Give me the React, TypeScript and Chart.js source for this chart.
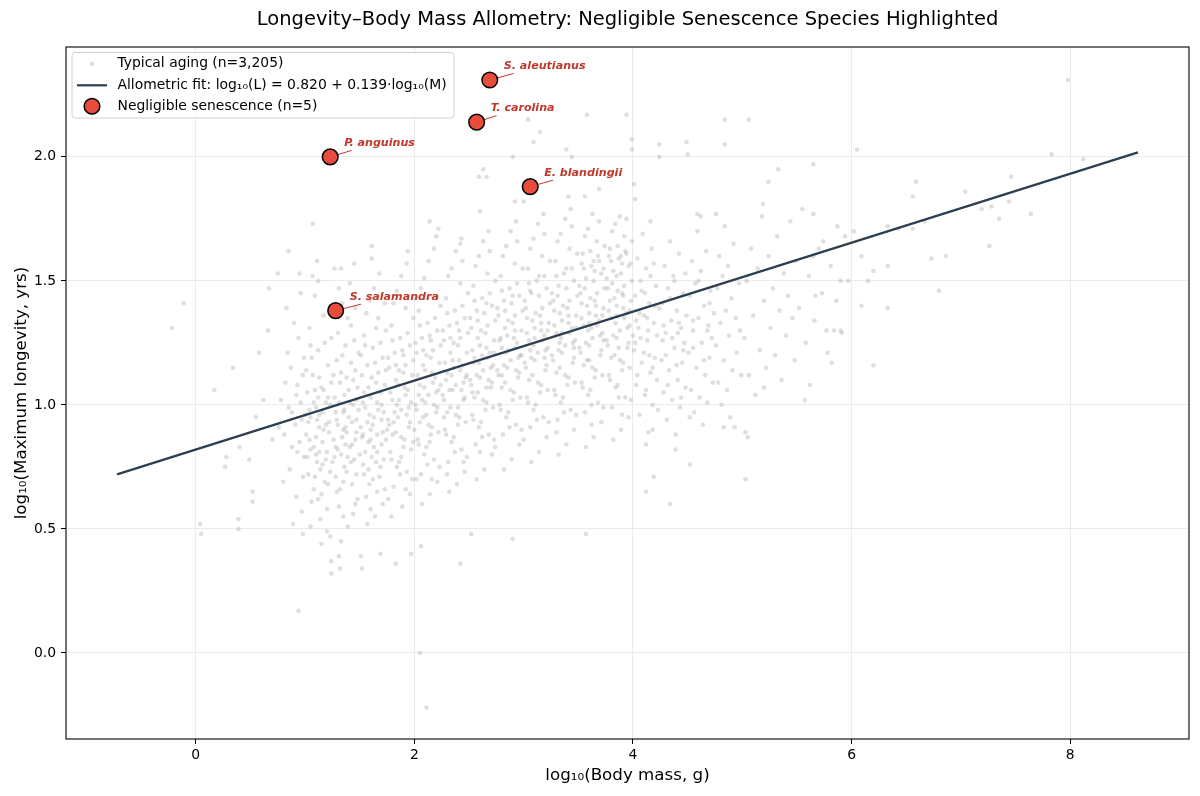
import { useEffect, useRef } from 'react';
import { Chart, registerables } from 'chart.js';

Chart.register(...registerables);

// Allometric fit: log10(L) = a + b·log10(M)
const FIT_INTERCEPT = 0.82;
const FIT_SLOPE = 0.139;
const fitMassRange = [-0.72, 8.62];

// Negligible-senescence species (log10 mass g, log10 max longevity yrs)
const negligibleNames = ['S. aleutianus', 'T. carolina', 'P. anguinus', 'E. blandingii', 'S. salamandra'];
const negligibleMass = [2.69, 2.57, 1.23, 3.06, 1.28];
const negligibleLongevity = [2.31, 2.14, 2.0, 1.88, 1.38];

const xTicks = [0, 2, 4, 6, 8];
const yTicks = [0, 0.5, 1, 1.5, 2];

const typicalCount = '3,205';

// Typical-aging species: [log10 mass, log10 longevity]
const typicalAging: number[][] = [
  [0.78,1.02],[0.81,0.88],[0.84,1.21],[0.86,0.74],[0.88,0.97],[0.9,1.33],[0.92,0.63],[0.93,1.08],[0.95,0.85],[0.96,1.45],[0.97,0.57],[0.98,1.12],[0.99,0.79],[0.8,0.69],[0.83,1.39],[0.87,1.15],[0.89,0.52],[0.91,0.92],[0.94,1.27],[0.96,1.01],[0.98,0.71],[0.99,1.19],[0.85,0.99],[0.93,0.81],[0.97,0.94],[0.82,1.09],[0.88,0.83],[0.95,1.53],[0.76,0.91],[0.92,1.04],
  [1.01,0.88],[1.02,1.05],[1.03,0.72],[1.04,1.31],[1.05,0.95],[1.06,0.61],[1.07,1.12],[1.08,0.83],[1.09,1.44],[1.1,0.99],[1.11,0.77],[1.12,1.22],[1.13,0.91],[1.14,0.54],[1.15,1.07],[1.16,0.85],[1.17,1.36],[1.18,0.69],[1.19,1.01],[1.2,0.81],[1.21,1.16],[1.22,0.93],[1.23,0.47],[1.24,1.27],[1.02,0.79],[1.04,0.98],[1.06,1.19],[1.08,0.66],[1.1,0.87],[1.12,1.03],[1.14,0.74],[1.16,0.97],[1.18,1.25],[1.2,0.58],[1.22,0.89],[1.24,1.09],[1.01,1.14],[1.03,0.93],[1.05,0.82],[1.07,1.52],[1.09,0.71],[1.11,0.94],[1.13,1.11],[1.15,0.64],[1.17,0.9],[1.19,0.78],[1.21,1.03],[1.23,0.73],[1.05,1.24],[1.09,1.06],[1.13,0.81],[1.17,1.06],[1.21,0.68],[1.0,0.96],[1.11,1.58],
  [1.26,0.86],[1.27,1.03],[1.28,0.71],[1.29,1.18],[1.3,0.92],[1.31,0.59],[1.32,1.09],[1.33,0.8],[1.34,1.41],[1.35,0.97],[1.36,0.75],[1.37,1.24],[1.38,0.89],[1.39,0.51],[1.4,1.06],[1.41,0.83],[1.42,1.32],[1.43,0.68],[1.44,1.0],[1.45,0.78],[1.46,1.14],[1.47,0.94],[1.48,0.62],[1.49,1.21],[1.26,1.12],[1.28,0.97],[1.3,1.29],[1.32,0.66],[1.34,0.87],[1.36,1.04],[1.38,0.73],[1.4,0.95],[1.42,1.17],[1.44,0.56],[1.46,0.86],[1.48,1.07],[1.27,0.79],[1.29,0.94],[1.31,1.47],[1.33,1.13],[1.35,0.69],[1.37,0.91],[1.39,1.35],[1.41,1.01],[1.43,0.84],[1.45,1.26],[1.47,0.72],[1.49,0.98],[1.3,0.82],[1.34,1.2],[1.38,1.11],[1.42,0.77],[1.46,1.39],[1.27,1.55],[1.33,0.45],[1.41,1.49],[1.47,0.89],[1.36,0.98],[1.44,1.1],[1.29,0.65],
  [1.51,0.91],[1.52,1.12],[1.53,0.76],[1.54,1.28],[1.55,0.99],[1.56,0.63],[1.57,1.16],[1.58,0.85],[1.59,1.42],[1.6,1.03],[1.61,0.79],[1.62,1.23],[1.63,0.95],[1.64,0.55],[1.65,1.09],[1.66,0.88],[1.67,1.35],[1.68,0.71],[1.69,1.05],[1.7,0.84],[1.71,1.19],[1.72,0.97],[1.73,0.66],[1.74,1.3],[1.51,1.2],[1.53,1.01],[1.55,0.81],[1.57,0.93],[1.59,0.68],[1.61,1.11],[1.63,1.47],[1.65,0.77],[1.67,0.98],[1.69,1.25],[1.71,0.6],[1.73,1.08],[1.52,0.87],[1.54,0.72],[1.56,1.37],[1.58,1.07],[1.6,0.9],[1.62,0.7],[1.64,1.17],[1.66,1.01],[1.68,1.53],[1.7,0.94],[1.72,0.78],[1.74,1.14],[1.55,1.24],[1.59,0.96],[1.63,0.83],[1.67,1.13],[1.71,0.89],[1.73,1.41],[1.57,0.52],[1.61,1.59],[1.65,1.31],[1.69,0.75],[1.54,1.05],[1.66,0.65],
  [1.76,0.94],[1.77,1.15],[1.78,0.81],[1.79,1.32],[1.8,1.02],[1.81,0.67],[1.82,1.21],[1.83,0.89],[1.84,1.46],[1.85,1.08],[1.86,0.77],[1.87,1.27],[1.88,0.98],[1.89,0.59],[1.9,1.13],[1.91,0.86],[1.92,1.39],[1.93,0.73],[1.94,1.06],[1.95,0.91],[1.96,1.24],[1.97,1.01],[1.98,0.7],[1.99,1.35],[1.76,1.19],[1.78,1.05],[1.8,0.88],[1.82,0.97],[1.84,0.75],[1.86,1.14],[1.88,1.52],[1.9,0.83],[1.92,1.04],[1.94,1.29],[1.96,0.64],[1.98,1.12],[1.77,0.92],[1.79,0.78],[1.81,1.41],[1.83,1.1],[1.85,0.95],[1.87,0.72],[1.89,1.22],[1.91,1.07],[1.93,1.57],[1.95,0.99],[1.97,0.82],[1.99,1.18],[1.8,1.26],[1.84,1.0],[1.88,0.87],[1.92,1.16],[1.96,0.93],[1.79,0.55],[1.94,1.62],
  [2.01,1.0],[2.02,1.21],[2.03,0.86],[2.04,1.38],[2.05,1.08],[2.06,0.72],[2.07,1.27],[2.08,0.95],[2.09,1.51],[2.1,1.14],[2.11,0.83],[2.12,1.33],[2.13,1.04],[2.14,0.64],[2.15,1.19],[2.16,0.91],[2.17,1.44],[2.18,0.78],[2.19,1.11],[2.2,0.97],[2.21,1.3],[2.22,1.06],[2.23,0.75],[2.24,1.4],[2.01,1.25],[2.03,1.12],[2.05,0.93],[2.07,1.02],[2.09,0.8],[2.11,1.2],[2.13,1.58],[2.15,0.88],[2.17,1.09],[2.19,1.35],[2.21,0.69],[2.23,1.17],[2.02,0.98],[2.04,0.84],[2.06,1.47],[2.08,1.16],[2.1,1.01],[2.12,0.76],[2.14,1.28],[2.16,1.13],[2.18,1.63],[2.2,1.05],[2.22,0.89],[2.24,1.24],[2.05,1.32],[2.09,1.07],[2.13,0.92],[2.17,1.22],[2.21,0.99],[2.07,0.6],[2.2,1.68],
  [2.26,1.04],[2.27,1.26],[2.28,0.9],[2.29,1.43],[2.3,1.13],[2.31,0.77],[2.32,1.32],[2.33,0.99],[2.34,1.55],[2.35,1.18],[2.36,0.87],[2.37,1.38],[2.38,1.08],[2.39,0.68],[2.4,1.24],[2.41,0.95],[2.42,1.49],[2.43,0.82],[2.44,1.16],[2.45,1.02],[2.46,1.35],[2.47,1.11],[2.48,0.79],[2.49,1.45],[2.26,1.3],[2.28,1.17],[2.3,0.97],[2.32,1.06],[2.34,0.85],[2.36,1.25],[2.38,1.62],[2.4,0.92],[2.42,1.14],[2.44,1.4],[2.46,0.73],[2.48,1.21],[2.27,1.02],[2.29,0.88],[2.31,1.52],[2.33,1.21],[2.35,1.06],[2.37,0.81],[2.39,1.33],[2.41,1.18],[2.43,1.67],[2.45,1.09],[2.47,0.93],[2.49,1.29],[2.3,1.37],[2.34,1.12],[2.38,0.96],[2.42,1.27],[2.46,1.03],[2.32,0.65],[2.44,1.58],
  [2.51,1.1],[2.52,1.31],[2.53,0.96],[2.54,1.48],[2.55,1.19],[2.56,0.84],[2.57,1.38],[2.58,1.05],[2.59,1.6],[2.6,1.24],[2.61,0.93],[2.62,1.43],[2.63,1.14],[2.64,0.74],[2.65,1.29],[2.66,1.01],[2.67,1.53],[2.68,0.88],[2.69,1.21],[2.7,1.07],[2.71,1.4],[2.72,1.16],[2.73,0.86],[2.74,1.5],[2.51,1.35],[2.53,1.22],[2.55,1.03],[2.57,1.12],[2.59,0.91],[2.61,1.3],[2.63,1.66],[2.65,0.98],[2.67,1.19],[2.69,1.45],[2.71,0.8],[2.73,1.26],[2.52,1.08],[2.54,0.94],[2.56,1.56],[2.58,1.27],[2.6,1.11],[2.62,0.87],[2.64,1.37],[2.66,1.23],[2.68,1.7],[2.7,1.15],[2.72,0.99],[2.74,1.34],[2.55,1.42],[2.59,1.17],[2.63,1.02],[2.67,1.32],[2.71,1.09],[2.57,0.7],[2.69,1.62],
  [2.76,1.14],[2.77,1.36],[2.78,1.0],[2.79,1.52],[2.8,1.23],[2.81,0.88],[2.82,1.42],[2.83,1.09],[2.84,1.64],[2.85,1.28],[2.86,0.97],[2.87,1.47],[2.88,1.18],[2.89,0.78],[2.9,1.33],[2.91,1.05],[2.92,1.57],[2.93,0.92],[2.94,1.25],[2.95,1.11],[2.96,1.44],[2.97,1.2],[2.98,0.9],[2.99,1.55],[2.76,1.39],[2.78,1.26],[2.8,1.07],[2.82,1.16],[2.84,0.95],[2.86,1.34],[2.88,1.7],[2.9,1.02],[2.92,1.23],[2.94,1.49],[2.96,0.84],[2.98,1.3],[2.77,1.12],[2.79,0.98],[2.81,1.6],[2.83,1.31],[2.85,1.15],[2.87,0.91],[2.89,1.41],[2.91,1.27],[2.93,1.74],[2.95,1.19],[2.97,1.03],[2.99,1.38],[2.8,1.46],[2.84,1.21],[2.88,1.06],[2.92,1.36],[2.96,1.13],[2.82,0.74],[2.94,1.66],
  [3.01,1.17],[3.02,1.39],[3.03,1.03],[3.04,1.55],[3.05,1.26],[3.06,0.91],[3.07,1.45],[3.08,1.12],[3.09,1.67],[3.1,1.31],[3.11,1.0],[3.12,1.5],[3.13,1.21],[3.14,0.81],[3.15,1.36],[3.16,1.08],[3.17,1.6],[3.18,0.95],[3.19,1.28],[3.2,1.14],[3.21,1.47],[3.22,1.23],[3.23,0.93],[3.24,1.58],[3.01,1.42],[3.03,1.29],[3.05,1.1],[3.07,1.19],[3.09,0.98],[3.11,1.37],[3.13,1.73],[3.15,1.05],[3.17,1.26],[3.19,1.52],[3.21,0.87],[3.23,1.33],[3.02,1.15],[3.04,1.01],[3.06,1.63],[3.08,1.34],[3.1,1.18],[3.12,0.94],[3.14,1.44],[3.16,1.3],[3.18,1.77],[3.2,1.22],[3.22,1.06],[3.24,1.41],[3.05,1.49],[3.09,1.24],[3.13,1.09],[3.17,1.39],[3.21,1.16],[3.07,0.77],[3.19,1.69],
  [3.26,1.2],[3.27,1.42],[3.28,1.06],[3.29,1.58],[3.3,1.29],[3.31,0.94],[3.32,1.48],[3.33,1.15],[3.34,1.69],[3.35,1.34],[3.36,1.03],[3.37,1.53],[3.38,1.24],[3.39,0.84],[3.4,1.39],[3.41,1.11],[3.42,1.63],[3.43,0.98],[3.44,1.31],[3.45,1.17],[3.46,1.5],[3.47,1.26],[3.48,0.96],[3.49,1.61],[3.26,1.45],[3.28,1.32],[3.3,1.13],[3.32,1.22],[3.34,1.01],[3.36,1.4],[3.38,1.75],[3.4,1.08],[3.42,1.29],[3.44,1.55],[3.46,0.9],[3.48,1.36],[3.27,1.18],[3.29,1.04],[3.31,1.66],[3.33,1.37],[3.35,1.21],[3.37,0.97],[3.39,1.47],[3.41,1.33],[3.43,1.79],[3.45,1.25],[3.47,1.09],[3.49,1.44],[3.3,1.52],[3.34,1.27],[3.38,1.12],[3.42,1.42],[3.46,1.19],[3.32,0.8],[3.44,1.72],
  [3.51,1.23],[3.52,1.45],[3.53,1.09],[3.54,1.61],[3.55,1.32],[3.56,0.97],[3.57,1.51],[3.58,1.18],[3.59,1.71],[3.6,1.37],[3.61,1.06],[3.62,1.56],[3.63,1.27],[3.64,0.87],[3.65,1.42],[3.66,1.14],[3.67,1.66],[3.68,1.01],[3.69,1.34],[3.7,1.2],[3.71,1.53],[3.72,1.29],[3.73,0.99],[3.74,1.64],[3.51,1.48],[3.53,1.35],[3.55,1.16],[3.57,1.25],[3.59,1.04],[3.61,1.43],[3.63,1.77],[3.65,1.11],[3.67,1.32],[3.69,1.58],[3.71,0.93],[3.73,1.39],[3.52,1.21],[3.54,1.07],[3.56,1.68],[3.58,1.4],[3.6,1.24],[3.62,1.0],[3.64,1.5],[3.66,1.36],[3.68,1.6],[3.7,1.28],[3.72,1.12],[3.74,1.47],[3.55,1.55],[3.59,1.3],[3.63,1.15],[3.67,1.45],[3.71,1.22],[3.57,0.83],[3.69,1.74],[3.53,1.57],[3.61,1.62],[3.65,1.54],[3.73,1.55],[3.62,1.31],
  [3.76,1.26],[3.77,1.47],[3.78,1.12],[3.79,1.63],[3.8,1.35],[3.81,0.99],[3.82,1.54],[3.83,1.2],[3.84,1.73],[3.85,1.4],[3.86,1.08],[3.87,1.59],[3.88,1.3],[3.89,0.9],[3.9,1.45],[3.91,1.17],[3.92,1.68],[3.93,1.03],[3.94,1.37],[3.95,1.23],[3.96,1.56],[3.97,1.32],[3.98,1.02],[3.99,1.66],[3.76,1.51],[3.78,1.38],[3.8,1.19],[3.82,1.28],[3.84,1.07],[3.86,1.46],[3.88,1.76],[3.9,1.14],[3.92,1.35],[3.94,1.61],[3.96,0.95],[3.98,1.42],[3.77,1.24],[3.79,1.1],[3.81,1.7],[3.83,1.43],[3.85,1.27],[3.87,1.03],[3.89,1.53],[3.91,1.39],[3.93,1.62],[3.95,1.31],[3.97,1.15],[3.99,1.5],[3.8,1.58],[3.84,1.33],[3.88,1.18],[3.92,1.48],[3.96,1.25],[3.82,0.86],[3.94,1.75],[3.78,1.6],[3.86,1.64],[3.9,1.57],[3.98,1.57],[3.85,1.52],
  [4.01,1.22],[4.02,1.44],[4.03,1.08],[4.04,1.59],[4.05,1.31],[4.06,0.96],[4.07,1.5],[4.08,1.17],[4.09,1.69],[4.1,1.36],[4.11,1.04],[4.12,1.55],[4.13,1.26],[4.14,0.89],[4.15,1.41],[4.16,1.13],[4.17,1.63],[4.18,1.0],[4.19,1.33],[4.2,1.19],[4.21,1.48],[4.22,1.28],[4.23,0.98],[4.24,1.39],[4.02,1.25],[4.04,1.12],[4.06,1.37],[4.08,1.46],[4.1,1.21],[4.12,1.06],[4.14,1.3],[4.16,1.52],[4.18,1.15],[4.2,1.4],[4.22,1.1],[4.03,1.34],[4.07,1.27],[4.11,1.45],[4.15,1.2],[4.19,1.57],
  [4.26,1.18],[4.27,1.41],[4.28,1.05],[4.29,1.56],[4.3,1.29],[4.31,0.94],[4.32,1.47],[4.33,1.14],[4.34,1.66],[4.35,1.34],[4.36,1.02],[4.37,1.52],[4.38,1.23],[4.39,0.88],[4.4,1.38],[4.41,1.1],[4.42,1.61],[4.43,0.99],[4.44,1.31],[4.45,1.17],[4.46,1.45],[4.47,1.25],[4.48,1.07],[4.49,1.36],[4.28,1.32],[4.3,1.2],[4.32,1.08],[4.34,1.43],[4.36,1.27],[4.38,1.5],[4.4,1.16],[4.42,1.33],[4.44,1.03],[4.46,1.22],[4.48,1.53],
  [4.51,1.21],[4.52,1.44],[4.53,1.06],[4.54,1.58],[4.55,1.3],[4.56,0.97],[4.57,1.49],[4.58,1.15],[4.59,1.7],[4.6,1.35],[4.61,1.03],[4.62,1.54],[4.63,1.25],[4.64,0.92],[4.65,1.4],[4.66,1.12],[4.67,1.62],[4.68,1.01],[4.69,1.32],[4.7,1.19],[4.71,1.46],[4.72,1.27],[4.73,1.09],[4.74,1.37],[4.55,1.23],[4.6,1.5],[4.65,1.18],[4.7,1.41],
  [4.76,1.24],[4.77,1.47],[4.78,1.09],[4.79,1.6],[4.8,1.33],[4.81,1.0],[4.82,1.52],[4.83,1.18],[4.84,1.72],[4.85,1.38],[4.86,1.06],[4.87,1.56],[4.88,1.28],[4.89,0.95],[4.9,1.43],[4.91,1.14],[4.92,1.65],[4.94,1.35],[4.95,1.21],[4.97,1.49],[4.98,1.3],[4.99,1.12],
  [5.02,1.27],[5.04,1.5],[5.06,1.12],[5.08,1.63],[5.1,1.36],[5.12,1.04],[5.14,1.55],[5.16,1.22],[5.18,1.76],[5.2,1.42],[5.22,1.15],[5.24,1.6],[5.26,1.31],[5.28,1.47],[5.3,1.2],[5.32,1.68],[5.34,1.38],[5.36,1.1],[5.38,1.53],[5.4,1.28],[5.42,1.44],[5.44,1.74],[5.46,1.35],[5.48,1.18],[5.49,1.58],
  [5.52,1.39],[5.58,1.25],[5.61,1.52],[5.66,1.34],[5.7,1.63],[5.73,1.45],[5.78,1.21],[5.81,1.56],[5.86,1.42],[5.9,1.3],[5.94,1.68],[5.97,1.5],
  [1.04,0.86],[1.13,0.96],[1.19,0.92],[1.23,1.0],[1.08,1.01],[1.16,0.76],[1.28,0.83],[1.35,0.9],[1.43,0.93],[1.31,1.01],[1.39,0.79],[1.47,1.02],[1.53,0.88],[1.62,0.92],[1.58,0.74],[1.7,1.0],[1.66,0.81],[1.74,0.86],[1.81,0.93],[1.86,1.02],[1.93,0.96],[1.99,0.85],[1.83,1.16],[1.9,1.2],[2.04,1.04],[2.11,0.96],[2.18,1.0],[2.24,1.08],[2.08,1.22],[2.15,1.26],[2.29,1.1],[2.36,1.15],[2.43,1.06],[2.48,1.12],[2.33,1.27],[2.41,1.3],[2.54,1.17],[2.62,1.2],[2.68,1.1],[2.73,1.21],[2.58,1.34],[2.66,1.41],[2.79,1.27],[2.86,1.22],[2.92,1.3],[2.98,1.2],[2.83,1.38],[2.9,1.44],[3.03,1.35],[3.1,1.27],[3.16,1.33],[3.22,1.3],[3.06,1.46],[3.14,1.52],[3.28,1.38],[3.35,1.29],[3.41,1.36],[3.48,1.31],[3.31,1.44],[3.39,1.55],[3.53,1.41],[3.6,1.33],[3.66,1.4],[3.72,1.36],[3.56,1.47],[3.64,1.58],[3.79,1.42],[3.85,1.36],[3.91,1.44],[3.97,1.38],[3.81,1.49],[3.89,1.6],
  [1.1,0.8],[1.25,0.77],[1.37,0.84],[1.5,0.8],[1.6,0.86],[1.75,0.9],[1.88,0.79],[2.0,0.9],[2.14,0.85],[2.27,0.95],[2.4,0.99],[2.53,1.05],[2.66,1.07],[2.8,1.12],[2.93,1.14],[3.06,1.22],[3.19,1.19],[3.33,1.25],[3.46,1.23],[3.6,1.18],[3.73,1.26],[3.87,1.23],[4.0,1.28],[4.13,1.35],[4.27,1.26],[4.41,1.29],[4.55,1.34],[4.68,1.3],
  [1.12,0.62],[1.2,0.49],[1.35,0.55],[1.46,0.6],[1.6,0.58],[1.76,0.62],[1.92,0.66],[2.02,0.7],[2.16,0.7],[2.3,0.72],[2.45,0.77],[2.6,0.81],[2.74,0.83],[3.0,0.86],[3.3,0.89],[3.62,0.92],[3.9,0.96],[1.05,0.51],[0.98,0.48],[1.15,0.44],
  [-0.11,1.41],[-0.22,1.31],[0.04,0.52],[0.94,0.17],[1.07,1.73],[0.85,1.62],[0.34,1.15],[0.17,1.06],[0.52,0.65],[0.28,0.79],[0.39,0.54],[0.05,0.48],[0.39,0.5],[0.52,0.61],[0.27,0.75],[0.49,0.78],[0.4,0.83],[0.75,1.53],[0.67,1.47],[0.62,1.02],[0.58,1.21],[0.7,0.86],[0.66,1.3],[0.55,0.95],
  [1.24,0.37],[1.31,0.39],[1.51,0.39],[2.11,-0.22],[2.05,0.0],[4.34,0.6],[5.03,0.89],[4.52,0.95],[4.18,0.9],[4.12,0.84],[3.57,0.48],[2.42,0.36],[2.9,0.46],[2.52,0.48],[2.06,0.43],[1.69,0.4],[1.83,0.36],[1.52,0.34],[1.24,0.32],[1.32,0.34],[1.97,0.4],
  [1.61,1.64],[1.33,1.55],[1.45,1.57],[1.12,1.5],[2.14,1.74],[2.22,1.71],[2.42,1.65],[2.6,1.78],[2.92,1.82],[3.0,1.82],[2.63,1.95],[2.59,1.92],[2.66,1.92],[2.9,2.0],[3.44,2.0],[3.04,2.15],[3.15,2.1],[3.09,2.06],[3.39,2.03],[3.58,2.17],[3.69,1.87],[3.41,1.84],[3.56,1.84],[3.99,2.07],[4.24,2.05],[4.49,2.06],[4.01,1.89],
  [7.98,2.31],[7.83,2.01],[8.12,1.99],[7.46,1.92],[7.44,1.82],[7.64,1.77],[7.35,1.75],[7.28,1.8],[7.19,1.79],[7.26,1.64],[7.04,1.86],[6.59,1.9],[6.56,1.84],[6.67,1.74],[6.56,1.71],[6.73,1.59],[6.86,1.6],[6.8,1.46],[6.33,1.72],[6.43,1.71],[6.33,1.56],[6.33,1.39],[6.15,1.5],[6.2,1.54],[6.09,1.4],[6.09,1.6],[6.02,1.7],[6.05,2.03],[5.87,1.72],[5.9,1.5],[5.91,1.29],[5.84,1.3],[5.77,1.3],[5.82,1.17],[6.2,1.16],[5.65,1.97],[5.33,1.95],[5.24,1.9],[5.55,1.79],[5.65,1.77],[5.74,1.66],[5.65,1.6],[5.67,1.44],[5.62,1.08],[5.57,1.02],[5.06,2.15],[4.84,2.15],[4.84,2.05],[4.5,2.01],[4.24,2.0],[3.94,2.17],[3.99,2.03],[4.02,1.83],[4.16,1.74],[4.59,1.77],[4.76,1.77],[5.19,1.81],[4.62,1.76],[5.05,0.87],[5.03,0.7],[4.52,0.76],[4.19,0.71],[4.12,0.65],[4.39,0.82],[4.93,0.91],[4.83,0.91],[5.2,1.07],
];

const FONT = '"DejaVu Sans", "Liberation Sans", sans-serif';
const RED_TEXT = '#c0392b';
const RED_FILL = '#e74c3c';
const LINE_COLOR = '#2c3e50';
const DOT_COLOR = 'rgba(150,150,150,0.3)';

// Draws the axes frame, titles, legend and species labels on top of the chart.
const decorPlugin = {
  id: 'decor',
  beforeDatasetsDraw(chart: any) {
    const { ctx } = chart;
    const xs = chart.scales.x;
    const ys = chart.scales.y;
    ctx.save();
    ctx.font = `italic bold 11.1px ${FONT}`;
    ctx.strokeStyle = RED_TEXT;
    ctx.lineWidth = 1;
    negligibleNames.forEach((name, i) => {
      const px = xs.getPixelForValue(negligibleMass[i]);
      const py = ys.getPixelForValue(negligibleLongevity[i]);
      const left = px + 14;
      const base = py - 11;
      const w = ctx.measureText(name).width;
      const cx = left + w / 2;
      const cy = base - 4;
      const dx = px - cx;
      const dy = py - cy;
      const tb = (base + 4.5 - cy) / dy;
      const tl = (left - 3 - cx) / dx;
      const t = Math.min(tb, tl);
      ctx.beginPath();
      ctx.moveTo(cx + dx * t, cy + dy * t);
      ctx.lineTo(px, py);
      ctx.stroke();
    });
    ctx.restore();
  },
  afterDraw(chart: any) {
    const { ctx, chartArea } = chart;
    const xs = chart.scales.x;
    const ys = chart.scales.y;
    const { left, right, top, bottom } = chartArea;
    ctx.save();

    // species labels
    ctx.font = `italic bold 11.1px ${FONT}`;
    ctx.fillStyle = RED_TEXT;
    ctx.textAlign = 'left';
    ctx.textBaseline = 'alphabetic';
    negligibleNames.forEach((name, i) => {
      const px = xs.getPixelForValue(negligibleMass[i]);
      const py = ys.getPixelForValue(negligibleLongevity[i]);
      ctx.fillText(name, px + 14, py - 11);
    });

    // frame
    ctx.strokeStyle = '#000';
    ctx.lineWidth = 1.1;
    ctx.strokeRect(left, top, right - left, bottom - top);

    // title
    const midX = (left + right) / 2;
    ctx.fillStyle = '#000';
    ctx.textAlign = 'center';
    ctx.textBaseline = 'middle';
    ctx.font = `19.5px ${FONT}`;
    ctx.fillText('Longevity\u2013Body Mass Allometry: Negligible Senescence Species Highlighted', midX, 20);

    // axis titles
    ctx.font = `16.7px ${FONT}`;
    ctx.fillText('log\u2081\u2080(Body mass, g)', midX, 776);
    ctx.save();
    ctx.translate(22, (top + bottom) / 2);
    ctx.rotate(-Math.PI / 2);
    ctx.fillText('log\u2081\u2080(Maximum longevity, yrs)', 0, 0);
    ctx.restore();

    // legend
    const lx = 72, ly = 52.5, lw = 382, lh = 65.5;
    ctx.beginPath();
    ctx.roundRect(lx, ly, lw, lh, 3);
    ctx.fillStyle = 'rgba(255,255,255,0.85)';
    ctx.fill();
    ctx.strokeStyle = '#d0d0d0';
    ctx.lineWidth = 1;
    ctx.stroke();

    const rows = [63.7, 85.3, 106.3];
    const markX = 92;
    ctx.fillStyle = DOT_COLOR;
    ctx.beginPath();
    ctx.arc(markX, rows[0], 2.2, 0, Math.PI * 2);
    ctx.fill();

    ctx.strokeStyle = LINE_COLOR;
    ctx.lineWidth = 2.2;
    ctx.beginPath();
    ctx.moveTo(77, rows[1]);
    ctx.lineTo(107, rows[1]);
    ctx.stroke();

    ctx.beginPath();
    ctx.arc(markX, rows[2], 7.8, 0, Math.PI * 2);
    ctx.fillStyle = RED_FILL;
    ctx.fill();
    ctx.strokeStyle = '#000';
    ctx.lineWidth = 1.5;
    ctx.stroke();

    ctx.fillStyle = '#000';
    ctx.textAlign = 'left';
    ctx.textBaseline = 'middle';
    ctx.font = `13.9px ${FONT}`;
    const fitLabel = `Allometric fit: log\u2081\u2080(L) = ${FIT_INTERCEPT.toFixed(3)} + ${FIT_SLOPE.toFixed(3)}\u00b7log\u2081\u2080(M)`;
    ctx.fillText(`Typical aging (n=${typicalCount})`, 117.5, rows[0]);
    ctx.fillText(fitLabel, 117.5, rows[1]);
    ctx.fillText(`Negligible senescence (n=${negligibleNames.length})`, 117.5, rows[2]);

    ctx.restore();
  },
};

export default function App() {
  const canvasRef = useRef<HTMLCanvasElement | null>(null);

  useEffect(() => {
    document.body.style.margin = '0';
    const canvas = canvasRef.current;
    if (!canvas) return;

    const fitLine = fitMassRange.map((m) => ({ x: m, y: FIT_INTERCEPT + FIT_SLOPE * m }));

    const chart = new Chart(canvas, {
      type: 'scatter',
      data: {
        datasets: [
          {
            label: 'Negligible senescence',
            data: negligibleMass.map((m, i) => ({ x: m, y: negligibleLongevity[i] })),
            pointRadius: 7.8,
            pointHoverRadius: 7.8,
            backgroundColor: RED_FILL,
            borderColor: '#000',
            borderWidth: 1.5,
            order: 1,
          },
          {
            label: 'Allometric fit',
            data: fitLine,
            showLine: true,
            pointRadius: 0,
            borderColor: LINE_COLOR,
            borderWidth: 2.2,
            order: 2,
          },
          {
            label: 'Typical aging',
            data: typicalAging.map(([m, l]) => ({ x: m, y: l })),
            pointRadius: 2.3,
            pointHoverRadius: 2.3,
            backgroundColor: DOT_COLOR,
            borderWidth: 0,
            order: 3,
          },
        ],
      },
      options: {
        animation: false,
        responsive: false,
        devicePixelRatio: 1,
        layout: { padding: { top: 47, right: 11, left: 0, bottom: 0 } },
        plugins: {
          legend: { display: false },
          title: { display: false },
          tooltip: { enabled: false },
        },
        scales: {
          x: {
            type: 'linear',
            min: -1.187,
            max: 9.087,
            afterFit: (scale: any) => { scale.height = 57; },
            afterBuildTicks: (scale: any) => { scale.ticks = xTicks.map((v) => ({ value: v })); },
            grid: {
              color: '#e6e6e6',
              lineWidth: 0.8,
              drawTicks: true,
              tickLength: 5,
              tickColor: '#000',
              tickWidth: 1,
            },
            border: { display: false },
            ticks: {
              color: '#000',
              font: { family: FONT, size: 13.9 },
              padding: 3,
              maxRotation: 0,
              autoSkip: false,
              callback: (v: any) => String(v),
            },
          },
          y: {
            type: 'linear',
            min: -0.347,
            max: 2.443,
            afterFit: (scale: any) => { scale.width = 66; },
            afterBuildTicks: (scale: any) => { scale.ticks = yTicks.map((v) => ({ value: v })); },
            grid: {
              color: '#e6e6e6',
              lineWidth: 0.8,
              drawTicks: true,
              tickLength: 5,
              tickColor: '#000',
              tickWidth: 1,
            },
            border: { display: false },
            ticks: {
              color: '#000',
              font: { family: FONT, size: 13.9 },
              padding: 5,
              autoSkip: false,
              callback: (v: any) => Number(v).toFixed(1),
            },
          },
        },
      },
      plugins: [decorPlugin],
    });

    return () => chart.destroy();
  }, []);

  return (
    <div style={{ position: 'absolute', left: 0, top: 0, width: 1200, height: 796 }}>
      <canvas ref={canvasRef} width={1200} height={796} style={{ display: 'block' }} />
    </div>
  );
}
